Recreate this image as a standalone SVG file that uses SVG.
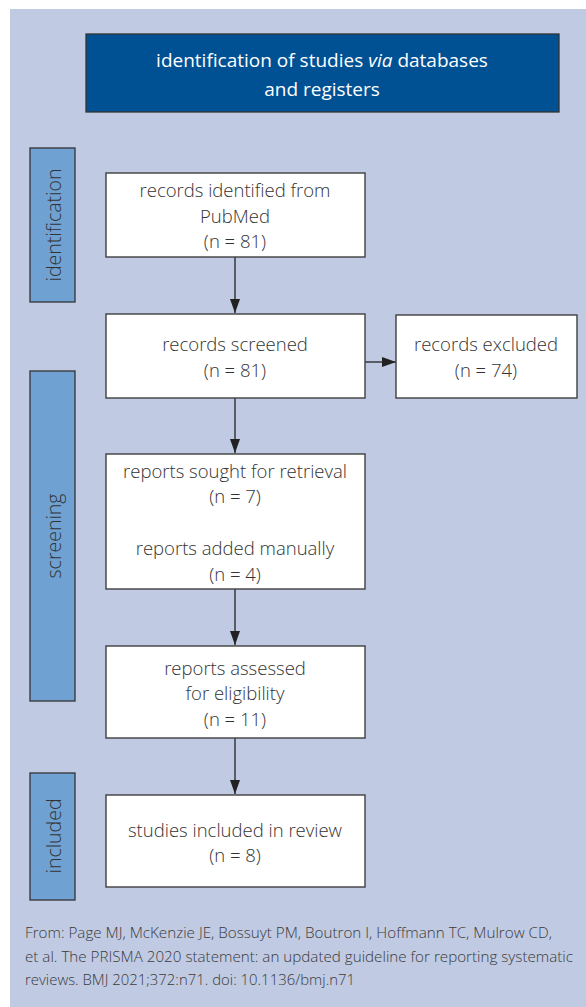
<svg xmlns="http://www.w3.org/2000/svg" width="586" height="1007" viewBox="0 0 586 1007">
<style>
.bg{fill:#c0cae3}
.box{fill:#ffffff;stroke:#3f3f3f;stroke-width:1.4}
.side{fill:#6fa2d3;stroke:#333333;stroke-width:1.3}
.head{fill:#005194;stroke:#333333;stroke-width:1.3}
.t{font-family:"Open Sans","Liberation Sans",sans-serif;font-weight:300;font-size:18.5px;fill:#333333;text-anchor:middle}
.ht{font-family:"Open Sans","Liberation Sans",sans-serif;font-size:19px;fill:#ffffff;text-anchor:middle}
.st{font-family:"Open Sans","Liberation Sans",sans-serif;font-weight:300;font-size:19.5px;fill:#333333;text-anchor:middle}
.ft{font-family:"Open Sans","Liberation Sans",sans-serif;font-weight:300;font-size:15px;fill:#3a3a3a}
.conn{stroke:#222222;stroke-width:1.3;fill:none}
</style>
<defs>
<marker id="ah2" viewBox="0 0 14 10" refX="14" refY="5" markerWidth="14" markerHeight="10" markerUnits="userSpaceOnUse" orient="auto">
<path d="M0,0 L14,5 L0,10 z" fill="#222222"/>
</marker>
</defs>
<rect class="bg" x="10" y="9" width="576" height="998"/>

<g id="header">
<rect class="head" x="86" y="34" width="473" height="78"/>
<text class="ht" x="322" y="67">identification of studies <tspan font-style="italic">via</tspan> databases</text>
<text class="ht" x="322" y="96">and registers</text>
</g>

<g id="side-identification">
<rect class="side" x="30" y="148" width="45" height="154"/>
<text class="st" transform="translate(61,225) rotate(-90)">identification</text>
</g>
<g id="side-screening">
<rect class="side" x="30" y="371" width="45" height="330"/>
<text class="st" transform="translate(61,536) rotate(-90)">screening</text>
</g>
<g id="side-included">
<rect class="side" x="30" y="773" width="45" height="127"/>
<text class="st" transform="translate(61,836) rotate(-90)">included</text>
</g>

<g id="connectors">
<line class="conn" x1="235" y1="257" x2="235" y2="313" marker-end="url(#ah2)"/>
<line class="conn" x1="235" y1="398" x2="235" y2="453" marker-end="url(#ah2)"/>
<line class="conn" x1="365" y1="362" x2="396" y2="362" marker-end="url(#ah2)"/>
<line class="conn" x1="235" y1="589" x2="235" y2="645" marker-end="url(#ah2)"/>
<line class="conn" x1="235" y1="738" x2="235" y2="794" marker-end="url(#ah2)"/>
</g>

<g id="records-identified">
<rect class="box" x="106" y="173" width="259" height="84"/>
<text class="t" x="235" y="197">records identified from</text>
<text class="t" x="235" y="223">PubMed</text>
<text class="t" x="235" y="248">(n = 81)</text>
</g>

<g id="records-screened">
<rect class="box" x="106" y="314" width="259" height="84"/>
<text class="t" x="235" y="351">records screened</text>
<text class="t" x="235" y="377">(n = 81)</text>
</g>

<g id="records-excluded">
<rect class="box" x="396" y="315" width="181" height="83"/>
<text class="t" x="486" y="351">records excluded</text>
<text class="t" x="486" y="377">(n = 74)</text>
</g>

<g id="reports-sought">
<rect class="box" x="106" y="454" width="259" height="135"/>
<text class="t" x="235" y="478">reports sought for retrieval</text>
<text class="t" x="235" y="503">(n = 7)</text>
<text class="t" x="235" y="555">reports added manually</text>
<text class="t" x="235" y="581">(n = 4)</text>
</g>

<g id="reports-assessed">
<rect class="box" x="106" y="646" width="259" height="92"/>
<text class="t" x="235" y="675">reports assessed</text>
<text class="t" x="235" y="700">for eligibility</text>
<text class="t" x="235" y="726">(n = 11)</text>
</g>

<g id="studies-included">
<rect class="box" x="106" y="795" width="259" height="92"/>
<text class="t" x="235" y="837">studies included in review</text>
<text class="t" x="235" y="862">(n = 8)</text>
</g>

<g id="footer">
<text class="ft" x="25" y="938" textLength="527" lengthAdjust="spacingAndGlyphs">From: Page MJ, McKenzie JE, Bossuyt PM, Boutron I, Hoffmann TC, Mulrow CD,</text>
<text class="ft" x="25" y="962" textLength="548" lengthAdjust="spacingAndGlyphs">et al. The PRISMA 2020 statement: an updated guideline for reporting systematic</text>
<text class="ft" x="25" y="985" textLength="330" lengthAdjust="spacingAndGlyphs">reviews. BMJ 2021;372:n71. doi: 10.1136/bmj.n71</text>
</g>
</svg>
